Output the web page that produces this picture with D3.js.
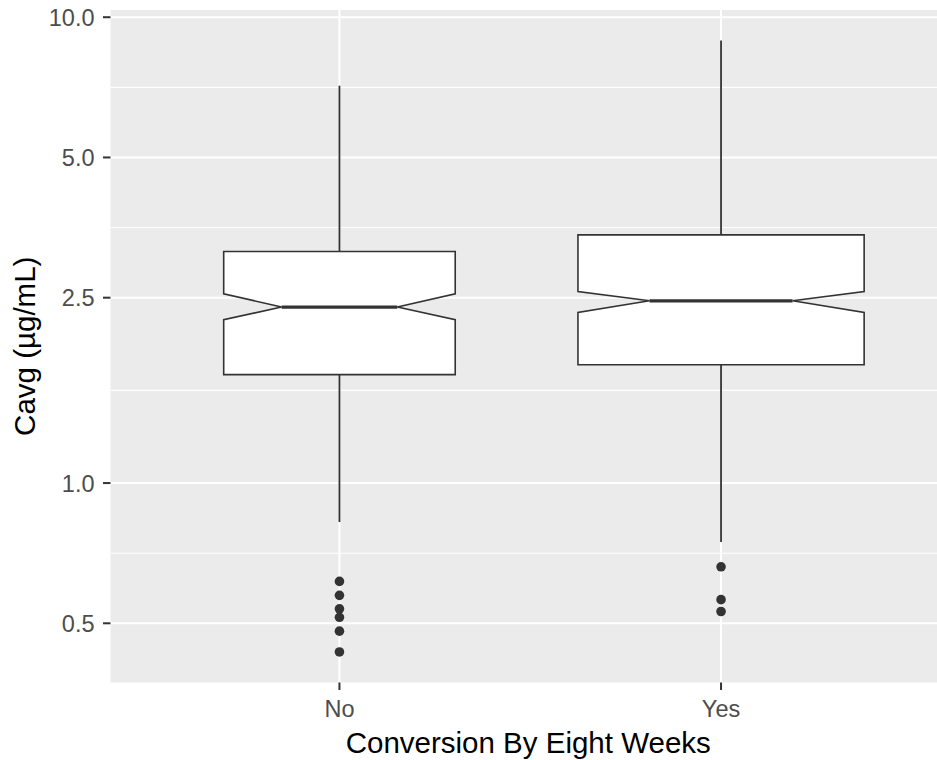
<!DOCTYPE html>
<html>
<head>
<meta charset="utf-8">
<script src="https://cdn.jsdelivr.net/npm/d3@7"></script>
<style>
  html, body { margin: 0; padding: 0; background: #fff; overflow: hidden; scrollbar-width: none; }
  ::-webkit-scrollbar { width: 0; height: 0; display: none; }
  svg { display: block; }
  text { font-family: "Liberation Sans", Arial, sans-serif; }
</style>
</head>
<body>
<div id="chart"></div>
<script>
// notched boxplot stats (log10 y scale)
const groups = ["No", "Yes"];
const counts = [250, 382];
const q1 = [1.709, 1.795];
const median = [2.387, 2.462];
const q3 = [3.14, 3.41];
const notchLo = [2.242, 2.323];
const notchHi = [2.549, 2.578];
const whiskerLo = [0.825, 0.747];
const whiskerHi = [7.13, 8.91];
const outliersNo = [0.615, 0.574, 0.537, 0.515, 0.481, 0.434];
const outliersYes = [0.661, 0.562, 0.53];
const yTicks = [0.5, 1.0, 2.5, 5.0, 10.0];

// the source image is cropped on the right, so the panel runs past the edge
const width = 937;
const height = 760;
const panel = { left: 110.5, right: 950, top: 10, bottom: 682.5 };

const outliers = [outliersNo, outliersYes];
const boxes = groups.map((g, i) => ({
  group: g,
  n: counts[i],
  q1: q1[i],
  median: median[i],
  q3: q3[i],
  notchLo: notchLo[i],
  notchHi: notchHi[i],
  lo: whiskerLo[i],
  hi: whiskerHi[i],
  outliers: outliers[i],
}));

const svg = d3
  .select("#chart")
  .append("svg")
  .attr("width", width)
  .attr("height", height);

// discrete x, ggplot style expansion of 0.6 units each side
const xScale = d3
  .scalePoint()
  .domain(groups)
  .range([panel.left, panel.right])
  .padding(0.6);
const step = xScale.step();

// log y with 5% expansion in log space
const allVals = boxes.flatMap((b) => [b.lo, b.hi, ...b.outliers]);
const [lmin, lmax] = d3.extent(allVals, (v) => Math.log10(v));
const ext = (lmax - lmin) * 0.05;
const yScale = d3
  .scaleLog()
  .domain([10 ** (lmin - ext), 10 ** (lmax + ext)])
  .range([panel.bottom, panel.top]);

// panel
svg
  .append("rect")
  .attr("x", panel.left)
  .attr("y", panel.top)
  .attr("width", width - panel.left)
  .attr("height", panel.bottom - panel.top)
  .attr("fill", "#EBEBEB");

const gridG = svg.append("g").attr("id", "grid-g");
const minorTicks = d3.pairs(yTicks).map(([a, b]) => Math.sqrt(a * b));
gridG
  .selectAll("line.minor")
  .data(minorTicks)
  .join("line")
  .attr("class", "minor")
  .attr("x1", panel.left)
  .attr("x2", width)
  .attr("y1", (d) => yScale(d))
  .attr("y2", (d) => yScale(d))
  .attr("stroke", "#fff")
  .attr("stroke-width", 1.1);
gridG
  .selectAll("line.major-y")
  .data(yTicks)
  .join("line")
  .attr("class", "major-y")
  .attr("x1", panel.left)
  .attr("x2", width)
  .attr("y1", (d) => yScale(d))
  .attr("y2", (d) => yScale(d))
  .attr("stroke", "#fff")
  .attr("stroke-width", 2);
gridG
  .selectAll("line.major-x")
  .data(groups)
  .join("line")
  .attr("class", "major-x")
  .attr("x1", (d) => xScale(d))
  .attr("x2", (d) => xScale(d))
  .attr("y1", panel.top)
  .attr("y2", panel.bottom)
  .attr("stroke", "#fff")
  .attr("stroke-width", 2);

// boxes
const maxN = d3.max(counts);
const ink = "#333333";
const boxG = svg.append("g").attr("id", "boxes-g");
boxes.forEach((b) => {
  const cx = xScale(b.group);
  const half = (0.75 * step * Math.sqrt(b.n / maxN)) / 2;
  const nh = half * 0.5;
  const g = boxG.append("g");

  g.append("line")
    .attr("x1", cx)
    .attr("x2", cx)
    .attr("y1", yScale(b.q3))
    .attr("y2", yScale(b.hi))
    .attr("stroke", ink)
    .attr("stroke-width", 1.8);
  g.append("line")
    .attr("x1", cx)
    .attr("x2", cx)
    .attr("y1", yScale(b.q1))
    .attr("y2", yScale(b.lo))
    .attr("stroke", ink)
    .attr("stroke-width", 1.8);

  const pts = [
    [cx - half, yScale(b.q3)],
    [cx + half, yScale(b.q3)],
    [cx + half, yScale(b.notchHi)],
    [cx + nh, yScale(b.median)],
    [cx + half, yScale(b.notchLo)],
    [cx + half, yScale(b.q1)],
    [cx - half, yScale(b.q1)],
    [cx - half, yScale(b.notchLo)],
    [cx - nh, yScale(b.median)],
    [cx - half, yScale(b.notchHi)],
  ];
  g.append("path")
    .attr("d", d3.line()(pts) + "Z")
    .attr("fill", "#fff")
    .attr("stroke", ink)
    .attr("stroke-width", 1.6)
    .attr("stroke-linejoin", "miter");
  g.append("line")
    .attr("x1", cx - nh)
    .attr("x2", cx + nh)
    .attr("y1", yScale(b.median))
    .attr("y2", yScale(b.median))
    .attr("stroke", ink)
    .attr("stroke-width", 3.2);

  g.selectAll("circle")
    .data(b.outliers)
    .join("circle")
    .attr("cx", cx)
    .attr("cy", (d) => yScale(d))
    .attr("r", 4.8)
    .attr("fill", ink);
});

// axes
const yAxisG = svg.append("g").attr("id", "y-axis-g");
yAxisG
  .selectAll("line")
  .data(yTicks)
  .join("line")
  .attr("x1", panel.left - 7.5)
  .attr("x2", panel.left)
  .attr("y1", (d) => yScale(d))
  .attr("y2", (d) => yScale(d))
  .attr("stroke", ink)
  .attr("stroke-width", 2);
yAxisG
  .selectAll("text")
  .data(yTicks)
  .join("text")
  .attr("x", panel.left - 16)
  .attr("y", (d) => yScale(d))
  .attr("dy", "0.36em")
  .attr("text-anchor", "end")
  .attr("font-size", 23.5)
  .attr("fill", "#4D4D4D")
  .text(d3.format(".1f"));

const xAxisG = svg.append("g").attr("id", "x-axis-g");
xAxisG
  .selectAll("line")
  .data(groups)
  .join("line")
  .attr("x1", (d) => xScale(d))
  .attr("x2", (d) => xScale(d))
  .attr("y1", panel.bottom)
  .attr("y2", panel.bottom + 7.5)
  .attr("stroke", ink)
  .attr("stroke-width", 2);
xAxisG
  .selectAll("text")
  .data(groups)
  .join("text")
  .attr("x", (d) => xScale(d))
  .attr("y", 717)
  .attr("text-anchor", "middle")
  .attr("font-size", 23.5)
  .attr("fill", "#4D4D4D")
  .text((d) => d);

svg
  .append("text")
  .attr("x", (panel.left + panel.right) / 2 - 2)
  .attr("y", 753)
  .attr("text-anchor", "middle")
  .attr("font-size", 29.5)
  .attr("fill", "#000")
  .text("Conversion By Eight Weeks");

svg
  .append("text")
  .attr("transform", `translate(35,${(panel.top + panel.bottom) / 2}) rotate(-90)`)
  .attr("text-anchor", "middle")
  .attr("font-size", 29.5)
  .attr("fill", "#000")
  .text("Cavg (µg/mL)");
</script>
</body>
</html>
